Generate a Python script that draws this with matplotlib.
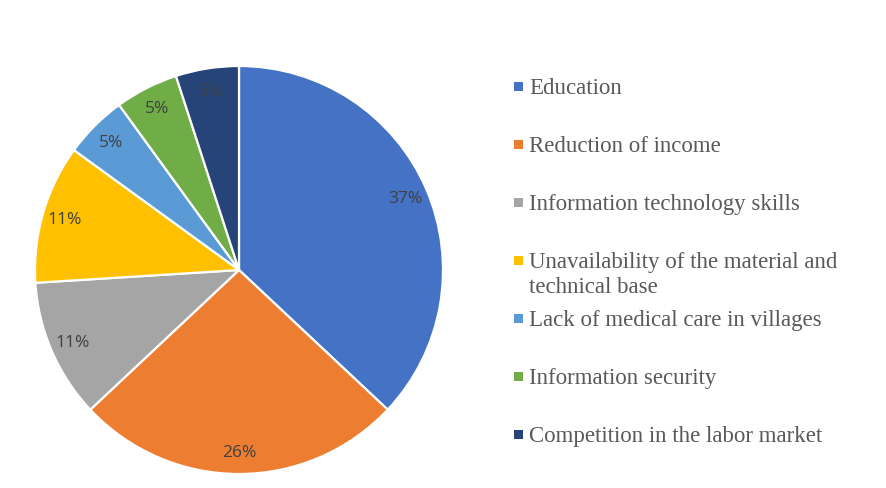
import matplotlib.pyplot as plt
from matplotlib.patches import Rectangle

categories = [
    "Education",
    "Reduction of income",
    "Information technology skills",
    "Unavailability of the material and\ntechnical base",
    "Lack of medical care in villages",
    "Information security",
    "Competition in the labor market",
]
shares = [37, 26, 11, 11, 5, 5, 5]
colors = ["#4472C4", "#ED7D31", "#A5A5A5", "#FFC000", "#5B9BD5", "#70AD47", "#264478"]

W, H = 886, 489
fig = plt.figure(figsize=(W / 100, H / 100), dpi=100)

# pie centre ~ (239, 271) px, radius ~204 px
cx, cy, r = 239, 271, 204
ax = fig.add_axes([(cx - r) / W, (H - cy - r) / H, 2 * r / W, 2 * r / H])
wedges, texts, autotexts = ax.pie(
    shares,
    colors=colors,
    startangle=90,
    counterclock=False,
    autopct=lambda p: f"{p:.0f}%",
    pctdistance=0.89,
    wedgeprops=dict(edgecolor="white", linewidth=1.6),
    textprops=dict(fontsize=12.5, color="#404040", family="Open Sans"),
)
ax.set_xlim(-1, 1)
ax.set_ylim(-1, 1)
ax.set_aspect("equal")

# legend, one fixed slot per entry like the Excel original
legend_y0 = 87
slot = 58
for i, (name, col) in enumerate(zip(categories, colors)):
    y = legend_y0 + slot * i
    fig.patches.append(Rectangle((514 / W, 1 - (y + 4.5) / H), 9 / W, 9 / H,
                                 transform=fig.transFigure, facecolor=col,
                                 edgecolor="none"))
    fig.text(529 / W, 1 - (y - 9) / H, name, ha="left", va="top",
             fontsize=16.5, family="Liberation Serif", color="#595959",
             linespacing=1.25)

fig.savefig("out.png", dpi=100)
